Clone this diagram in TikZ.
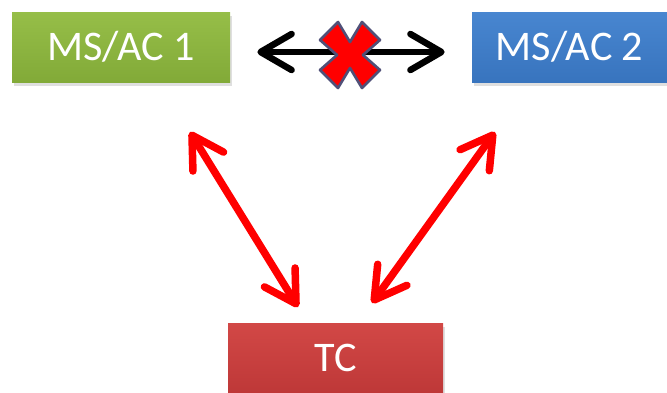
\documentclass[tikz,border=0pt]{standalone}
\usepackage{fontspec}
\setmainfont{Carlito}
\usetikzlibrary{arrows.meta,shadows}
\definecolor{boxgreen}{RGB}{150,190,72}
\definecolor{boxgreendk}{RGB}{130,170,56}
\definecolor{boxblue}{RGB}{72,134,208}
\definecolor{boxbluedk}{RGB}{56,116,190}
\definecolor{boxred}{RGB}{210,72,70}
\definecolor{boxreddk}{RGB}{190,56,56}
\definecolor{crossline}{RGB}{80,80,120}
\tikzset{
  box/.style={minimum height=1.4cm, text=white, font=\fontsize{24}{28}\selectfont,
    drop shadow={shadow xshift=0.04cm, shadow yshift=-0.08cm, opacity=0.25}},
  link/.style={line cap=round,
    {Straight Barb[length=0.62cm, width=0.72cm, round]}-{Straight Barb[length=0.62cm, width=0.72cm, round]}}
}
\begin{document}
\begin{tikzpicture}
\useasboundingbox (0,0) rectangle (13.34,7.84);
\node[box, minimum width=4.36cm, top color=boxgreen, bottom color=boxgreendk] (g) at (2.42,6.9) {MS/AC 1};
\node[box, minimum width=3.9cm, top color=boxblue, bottom color=boxbluedk] (b) at (11.39,6.9) {MS/AC 2};
\node[box, minimum width=4.3cm, top color=boxred, bottom color=boxreddk] (tc) at (6.71,0.68) {TC};
% links
\draw[link, line width=0.13cm, shorten <=0.54cm, shorten >=0.54cm] ([yshift=-0.1cm]g.east) -- ([yshift=-0.1cm]b.west);
\coordinate (g1) at (3.8,5.2);
\coordinate (t1) at (5.96,1.7);
\coordinate (b1) at (9.9,5.2);
\coordinate (t2) at (7.44,1.78);
\draw[link, red, line width=0.15cm] (g1) -- (t1);
\draw[link, red, line width=0.15cm] (b1) -- (t2);
% cross
\begin{scope}[shift={(7.0,6.74)}]
\draw[fill=red, draw=crossline, line width=1.5pt, line join=round]
  (-0.6,0.3) -- (-0.24,0.66) -- (0,0.26) -- (0.24,0.66) -- (0.6,0.3) -- (0.26,0)
  -- (0.6,-0.3) -- (0.24,-0.66) -- (0,-0.26) -- (-0.24,-0.66) -- (-0.6,-0.3) -- (-0.26,0) -- cycle;
\end{scope}
\end{tikzpicture}
\end{document}
